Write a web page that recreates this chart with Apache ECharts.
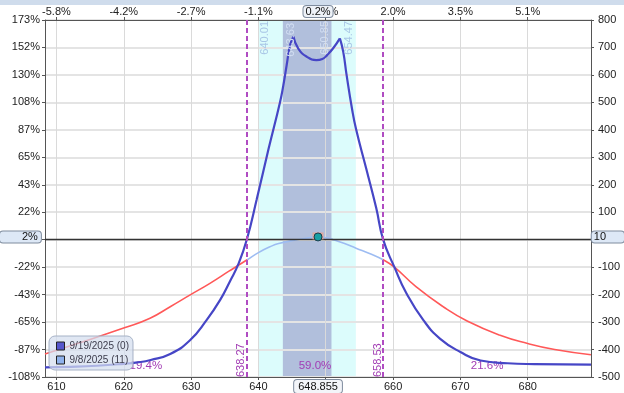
<!DOCTYPE html>
<html><head><meta charset="utf-8">
<script src="https://cdn.jsdelivr.net/npm/echarts@6/dist/echarts.min.js"></script>
<style>html,body{margin:0;padding:0;background:#fff}#c{width:624px;height:393px}</style>
</head><body><div id="c"></div>
<script>
// ---------- data ----------
const expName = '9/19/2025 (0)';
const t0Name = '9/8/2025 (11)';

const expPrice = [608.3, 612, 616, 620, 622, 624, 626.9, 629.8, 632.3, 634.3, 635.8, 637.0, 638.27, 639.75, 641.5, 643.2, 643.7, 644.2, 644.7, 645.2,
                  645.9, 647.2, 648.6, 649.5, 650.2, 651.1, 652.1,
                  652.6, 653.1, 653.9, 654.5, 656.0, 657.5, 658.53, 660.2, 662.0, 664.5, 667.0, 670.0, 673.0, 677.0, 681.0, 689.4];
const expPL = [-465, -463, -459, -452, -447, -438, -416, -367, -293, -220, -150, -90, 0, 147, 330, 500, 562, 636, 709, 740,
               697, 666, 654, 658, 672, 697, 733,
               684, 599, 477, 403, 260, 115, 0, -100, -196, -293, -361, -409, -440, -450, -453, -455];

const t0Price = [608.3, 613.0, 620.2, 623.9, 626.9, 629.8, 632.8, 635.8, 638.27, 640.0, 641.7, 643.0, 645.8, 647.5, 648.855,
                 650.0, 651.1, 652.8, 654.5, 656.5, 658.53, 660.2, 663.4, 667.5, 671.0, 675.9, 680.0, 684.0, 689.4];
const t0PL = [-416, -379, -320, -286, -244, -202, -159, -112, -74, -47, -26, -14, 0, 7, 10,
              7, 0, -14, -31, -50, -73, -100, -171, -245, -296, -348, -378, -400, -419];

const xRange = [608.3, 689.4];
const xTicks = [610, 620, 630, 640, 650, 660, 670, 680];
const xTickLabels = ['610', '620', '630', '640', '650', '660', '670', '680'];
const topTickLabels = ['-5.8%', '-4.2%', '-2.7%', '-1.1%', '0.4%', '2.0%', '3.5%', '5.1%'];
const yTicks = [-500, -400, -300, -200, -100, 0, 100, 200, 300, 400, 500, 600, 700, 800];
const rightTickLabels = ['-500', '-400', '-300', '-200', '-100', '0', '100', '200', '300', '400', '500', '600', '700', '800'];
const leftTickLabels = ['-108%', '-87%', '-65%', '-43%', '-22%', '0%', '22%', '43%', '65%', '87%', '108%', '130%', '152%', '173%'];

const breakevens = [638.27, 658.53];
const outerBand = [640.01, 654.47];
const innerBand = [643.63, 650.85];
const probLabels = ['19.4%', '59.0%', '21.6%'];

const currentPrice = 648.855;
const currentPL = 10;
const currentPriceLabel = '648.855';
const currentPctLabel = '0.2%';
const currentPLLabel = '10';
const currentPLPctLabel = '2%';

// ---------- styles ----------
const FONT = 'Liberation Sans';
const AXIS_COLOR = '#555';
const TEXT_COLOR = '#222';
const EXP_COLOR = '#4646c6';
const T0_IN = '#9dbcf2';
const T0_OUT = '#ff5858';
const MAGENTA = '#b04cc2';
const MAGENTA_TXT = '#a23cb4';

// split expiration curve at its peaks so the cusps stay sharp
const expPts = expPrice.map((p, i) => [p, expPL[i]]);
const cuts = [0];
for (let i = 1; i < expPL.length - 1; i++) {
  if (expPL[i] > expPL[i - 1] && expPL[i] > expPL[i + 1]) cuts.push(i);
}
cuts.push(expPL.length - 1);
const expSegments = [];
for (let k = 0; k < cuts.length - 1; k++) expSegments.push(expPts.slice(cuts[k], cuts[k + 1] + 1));

const t0Pts = t0Price.map((p, i) => [p, t0PL[i]]);

function tickLabel(labels) {
  return function (v) {
    const i = xTicks.indexOf(Math.round(v * 1000) / 1000);
    return i >= 0 ? labels[i] : '';
  };
}

const boxLabel = {
  show: true, fontFamily: FONT, fontSize: 11, color: '#111',
  borderWidth: 1, borderColor: '#7f8c9e'
};

const chart = echarts.init(document.getElementById('c'), null, { renderer: 'canvas' });

const series = [];
// bands
series.push({
  type: 'line', name: 'bands', data: [], z: 1, silent: true,
  markArea: {
    silent: true, z: -5,
    data: [
      [{ xAxis: outerBand[0], itemStyle: { color: '#dcfcfc' } }, { xAxis: outerBand[1] }],
      [{ xAxis: innerBand[0], itemStyle: { color: '#b1bfdc' } }, { xAxis: innerBand[1] }]
    ]
  },
  markLine: {
    silent: true, symbol: 'none',
    lineStyle: { color: 'rgba(0,0,0,0)', width: 1, type: 'solid' },
    label: { fontFamily: FONT, fontSize: 11, formatter: '{c}', distance: 1 },
    data: [
      { xAxis: outerBand[0], label: { position: 'insideEndBottom', color: '#a9c6e6' } },
      { xAxis: innerBand[0], label: { position: 'insideEndBottom', color: '#d2def2', distance: 3 } },
      { xAxis: innerBand[1], label: { position: 'insideEndTop', color: '#d2def2' } },
      { xAxis: outerBand[1], label: { position: 'insideEndTop', color: '#a9c6e6' } }
    ]
  }
});
expSegments.forEach(seg => {
  series.push({
    type: 'line', name: expName, data: seg, smooth: 0.5, symbol: 'none',
    lineStyle: { color: EXP_COLOR, width: 2.2 },
    itemStyle: { color: '#5656cc', borderColor: '#222', borderWidth: 1 },
    z: 3
  });
});
const t0Index = series.length;
series.push({
  type: 'line', name: t0Name, data: t0Pts, smooth: 0.5, symbol: 'none',
  lineStyle: { width: 1.6 },
  itemStyle: { color: '#8fb2ec', borderColor: '#222', borderWidth: 1 },
  z: 2
});
// overlay: zero line, breakevens, probabilities, current point
series.push({
  type: 'line', name: 'overlay', data: [], z: 4, silent: true,
  markLine: {
    silent: true, symbol: 'none',
    data: [
      { yAxis: 0, lineStyle: { color: '#333', width: 1.3, type: 'solid' }, label: { show: false } },
      { xAxis: breakevens[0] },
      { xAxis: breakevens[1] }
    ],
    lineStyle: { color: MAGENTA, width: 2, type: [5, 3] },
    label: { position: 'insideStartTop', formatter: '{c}', color: MAGENTA_TXT, fontFamily: FONT, fontSize: 11, distance: 0 }
  },
  markArea: {
    silent: true,
    itemStyle: { color: 'rgba(0,0,0,0)' },
    label: { show: true, position: 'insideBottom', distance: 5, formatter: '{b}', color: MAGENTA_TXT, fontFamily: FONT, fontSize: 11.5 },
    data: [
      [{ name: probLabels[0], xAxis: xRange[0] }, { xAxis: breakevens[0] }],
      [{ name: probLabels[1], xAxis: breakevens[0] }, { xAxis: breakevens[1] }],
      [{ name: probLabels[2], xAxis: breakevens[1] }, { xAxis: xRange[1] }]
    ]
  },
  markPoint: {
    silent: true,
    label: { show: false },
    data: [
      { coord: [currentPrice, currentPL], symbol: 'rect', symbolSize: [11, 7], symbolOffset: [0, -1], itemStyle: { color: 'rgba(238,160,140,0.75)' } },
      { coord: [currentPrice, currentPL], symbol: 'circle', symbolSize: 8, itemStyle: { color: '#17a0a4', borderColor: '#1d3c4c', borderWidth: 1 } }
    ]
  }
});

const option = {
  animation: false,
  textStyle: { fontFamily: FONT },
  graphic: [{ type: 'rect', shape: { x: 0, y: 0, width: 624, height: 5 }, style: { fill: '#cfdcec' }, silent: true }],
  grid: { left: 45, right: 33, top: 20, bottom: 16, containLabel: false },
  legend: {
    data: [expName, t0Name], orient: 'vertical', left: 49, top: 336,
    icon: 'rect', itemWidth: 8, itemHeight: 8, itemGap: 4, itemTextGap: 4,
    padding: [5, 4, 5, 7],
    backgroundColor: 'rgba(212,222,238,0.72)', borderColor: '#a6b2c6', borderWidth: 1, borderRadius: 6,
    textStyle: { fontFamily: FONT, fontSize: 10, color: '#3c3c4c' },
    itemStyle: { borderColor: '#222', borderWidth: 1 },
    selectedMode: false
  },
  visualMap: {
    show: false, type: 'piecewise', dimension: 0, seriesIndex: t0Index,
    pieces: [{ gte: breakevens[0], lte: breakevens[1], color: T0_IN }],
    outOfRange: { color: T0_OUT }
  },
  xAxis: [
    {
      type: 'value', position: 'bottom', min: xRange[0], max: xRange[1],
      splitNumber: 8, minInterval: 10, maxInterval: 10,
      axisLine: { show: true, onZero: false, lineStyle: { color: AXIS_COLOR, width: 1 } },
      axisTick: { show: true, length: 3, lineStyle: { color: AXIS_COLOR } },
      axisLabel: { formatter: tickLabel(xTickLabels), color: TEXT_COLOR, fontSize: 11, fontFamily: FONT, margin: 4, showMinLabel: false, showMaxLabel: false },
      splitLine: { show: true, lineStyle: { color: '#dadada', width: 1 } },
      axisPointer: {
        show: true, status: 'show', value: currentPrice, triggerTooltip: false, snap: false,
        lineStyle: { opacity: 0 },
        label: Object.assign({}, boxLabel, { formatter: () => currentPriceLabel, backgroundColor: '#f3f5f9', padding: [1, 4, 1, 4], borderRadius: 3, margin: 4 })
      }
    },
    {
      type: 'value', position: 'top', min: xRange[0], max: xRange[1],
      splitNumber: 8, minInterval: 10, maxInterval: 10,
      axisLine: { show: true, onZero: false, lineStyle: { color: AXIS_COLOR, width: 1 } },
      axisTick: { show: true, length: 3, lineStyle: { color: AXIS_COLOR } },
      axisLabel: { formatter: tickLabel(topTickLabels), color: TEXT_COLOR, fontSize: 11, fontFamily: FONT, margin: 3, showMinLabel: false, showMaxLabel: false },
      splitLine: { show: false },
      axisPointer: {
        show: true, status: 'show', value: currentPrice, triggerTooltip: false, snap: false,
        lineStyle: { opacity: 0 },
        label: Object.assign({}, boxLabel, { formatter: () => currentPctLabel, backgroundColor: '#eef2f8', padding: [0, 2, 0, 2], margin: 3 })
      }
    }
  ],
  yAxis: [
    {
      type: 'value', position: 'left', min: -500, max: 800, interval: 100,
      axisLine: { show: true, lineStyle: { color: AXIS_COLOR, width: 1 } },
      axisTick: { show: true, length: 3, lineStyle: { color: AXIS_COLOR } },
      axisLabel: { formatter: v => leftTickLabels[yTicks.indexOf(v)] || '', color: TEXT_COLOR, fontSize: 11, fontFamily: FONT, margin: 5 },
      splitLine: { show: true, lineStyle: { color: '#e4e4e4', width: 2 } },
      axisPointer: {
        show: true, status: 'show', value: currentPL, triggerTooltip: false, snap: false,
        lineStyle: { opacity: 0 },
        label: Object.assign({}, boxLabel, { formatter: () => currentPLPctLabel, backgroundColor: '#dde8f6', padding: [0, 3, 0, 22], margin: 5 })
      }
    },
    {
      type: 'value', position: 'right', min: -500, max: 800, interval: 100,
      axisLine: { show: true, lineStyle: { color: AXIS_COLOR, width: 1 } },
      axisTick: { show: true, length: 3, lineStyle: { color: AXIS_COLOR } },
      axisLabel: { formatter: v => rightTickLabels[yTicks.indexOf(v)] || '', color: TEXT_COLOR, fontSize: 11, fontFamily: FONT, margin: 7 },
      splitLine: { show: false },
      axisPointer: {
        show: true, status: 'show', value: currentPL, triggerTooltip: false, snap: false,
        lineStyle: { opacity: 0 },
        label: Object.assign({}, boxLabel, { formatter: () => currentPLLabel, backgroundColor: '#dde8f6', padding: [0, 18, 0, 2], margin: 4 })
      }
    }
  ],
  series: series
};
chart.setOption(option);
</script>
</body></html>
